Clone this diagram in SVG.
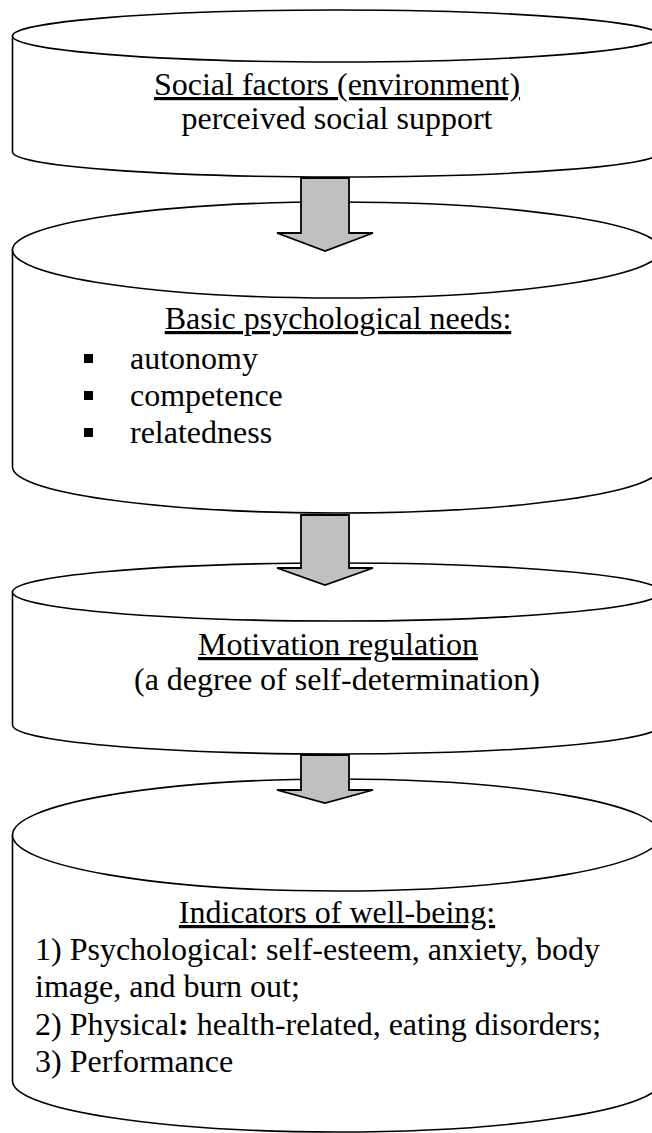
<svg xmlns="http://www.w3.org/2000/svg" width="652" height="1133" viewBox="0 0 652 1133">
<style>
.cyl{fill:#fff;stroke:#000;stroke-width:1.6}
.arr{fill:#c0c0c0;stroke:#000;stroke-width:1.8;stroke-linejoin:miter}
.t{font-family:'Liberation Serif','Times New Roman',Times,serif;font-size:32px;fill:#000}
.c{text-anchor:middle}
.u{text-decoration:underline}
.b{fill:#000}
</style>
<rect width="652" height="1133" fill="#fff"/>
<g id="node1">
<path class="cyl" d="M12.5,36 L12.5,152 A324.25,25 0 0 0 661,152 L661,36 Z"/>
<ellipse class="cyl" cx="336.75" cy="36" rx="324.25" ry="26"/>
<text class="t c u" font-family="Liberation Serif, serif" x="337" y="95">Social factors (environment)</text>
<text class="t c" font-family="Liberation Serif, serif" x="337" y="129">perceived social support</text>
</g>
<g id="node2">
<path class="cyl" d="M12.5,250 L12.5,467 A324.25,46 0 0 0 661,467 L661,250 Z"/>
<ellipse class="cyl" cx="336.75" cy="250" rx="324.25" ry="48"/>
<text class="t c u" font-family="Liberation Serif, serif" x="338" y="329">Basic psychological needs:</text>
<rect class="b" x="84" y="354" width="9" height="9"/>
<text class="t" font-family="Liberation Serif, serif" x="130" y="369">autonomy</text>
<rect class="b" x="84" y="391" width="9" height="9"/>
<text class="t" font-family="Liberation Serif, serif" x="130" y="406">competence</text>
<rect class="b" x="84" y="428" width="9" height="9"/>
<text class="t" font-family="Liberation Serif, serif" x="130" y="443">relatedness</text>
</g>
<g id="node3">
<path class="cyl" d="M12.5,592 L12.5,725 A324.25,29 0 0 0 661,725 L661,592 Z"/>
<ellipse class="cyl" cx="336.75" cy="592" rx="324.25" ry="29"/>
<text class="t c u" font-family="Liberation Serif, serif" x="338" y="655">Motivation regulation</text>
<text class="t c" font-family="Liberation Serif, serif" x="337" y="690">(a degree of self-determination)</text>
</g>
<g id="node4">
<path class="cyl" d="M12.5,835 L12.5,1081 A324.25,51 0 0 0 661,1081 L661,835 Z"/>
<ellipse class="cyl" cx="336.75" cy="835" rx="324.25" ry="56"/>
<text class="t c u" font-family="Liberation Serif, serif" x="337" y="923">Indicators of well-being:</text>
<text class="t" font-family="Liberation Serif, serif" x="35" y="960">1) Psychological: self-esteem, anxiety, body</text>
<text class="t" font-family="Liberation Serif, serif" x="35" y="997">image, and burn out;</text>
<text class="t" font-family="Liberation Serif, serif" x="35" y="1035">2) Physical<tspan font-weight="bold">:</tspan> health-related, eating disorders;</text>
<text class="t" font-family="Liberation Serif, serif" x="35" y="1072">3) Performance</text>
</g>
<g id="connectors">
<polygon class="arr" points="301,178 349,178 349,233 373,233 325,251 277,233 301,233"/>
<polygon class="arr" points="301,515 349,515 349,568 373,568 325,585 277,568 301,568"/>
<polygon class="arr" points="301,755 349,755 349,790 373,790 325,803 277,790 301,790"/>
</g>
</svg>
